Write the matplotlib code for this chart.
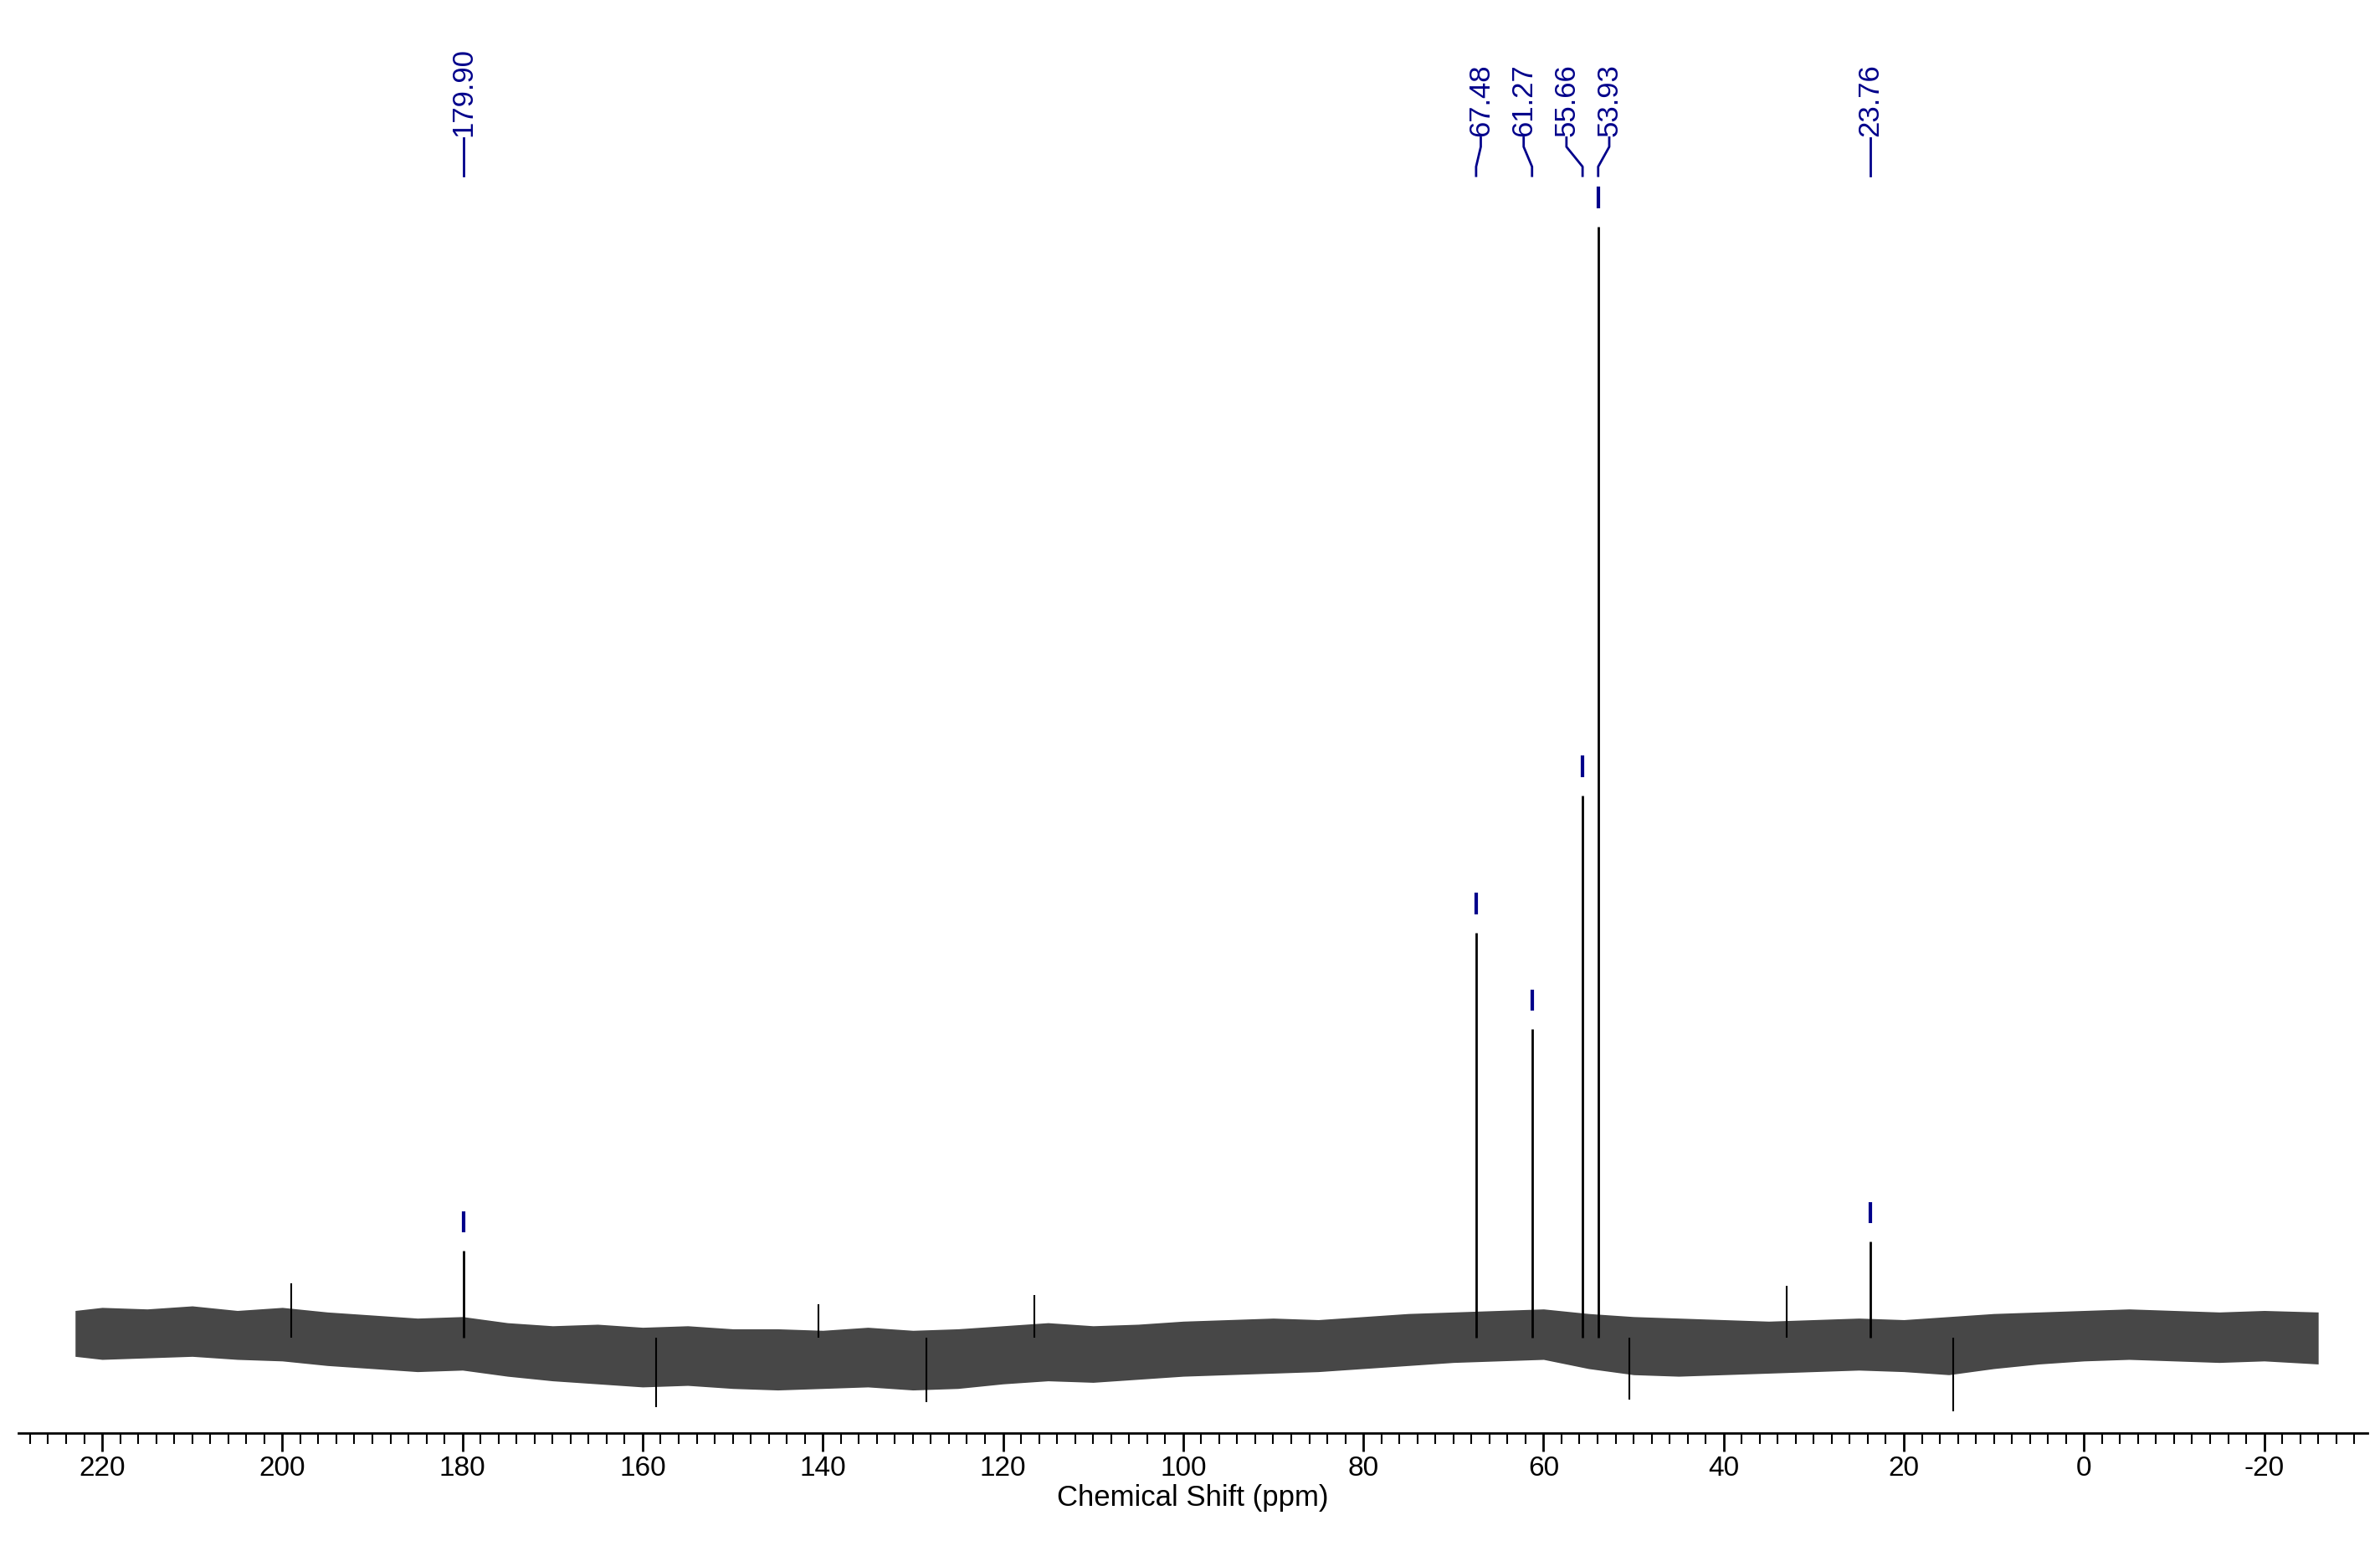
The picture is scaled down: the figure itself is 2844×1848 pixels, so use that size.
"""13C NMR spectrum with peak picks."""

import matplotlib.pyplot as plt
from matplotlib.ticker import FuncFormatter, MultipleLocator

plt.rcParams["font.family"] = ["Liberation Sans", "DejaVu Sans"]

# picked peaks (ppm) and heights above baseline (arbitrary units)
peak_ppm = [179.90, 67.48, 61.27, 55.66, 53.93, 23.76]
peak_height = [57, 265, 202, 355, 727, 63]
label_ppm = [179.90, 66.96, 62.20, 57.45, 52.70, 23.76]
peak_labels = ["179.90", "67.48", "61.27", "55.66", "53.93", "23.76"]

# baseline noise envelope (every 5 ppm)
env_ppm = [223, 220, 215, 210, 205, 200, 195, 190, 185, 180, 175, 170, 165, 160,
           155, 150, 145, 140, 135, 130, 125, 120, 115, 110, 105, 100, 95, 90, 85,
           80, 75, 70, 65, 60, 55, 50, 45, 40, 35, 30, 25, 20, 15, 10, 5, 0, -5,
           -10, -15, -20, -26]
env_upper = [18, 20, 19, 21, 18, 20, 17, 15, 13, 14, 10, 8, 9, 7, 8, 6, 6, 5, 7,
             5, 6, 8, 10, 8, 9, 11, 12, 13, 12, 14, 16, 17, 18, 19, 16, 14, 13, 12,
             11, 12, 13, 12, 14, 16, 17, 18, 19, 18, 17, 18, 17]
env_lower = [-12, -14, -13, -12, -14, -15, -18, -20, -22, -21, -25, -28, -30, -32,
             -31, -33, -34, -33, -32, -34, -33, -30, -28, -29, -27, -25, -24, -23,
             -22, -20, -18, -16, -15, -14, -20, -24, -25, -24, -23, -22, -21, -22,
             -24, -20, -17, -15, -14, -15, -16, -15, -17]
spike_ppm = [199.0, 116.5, 140.5, 33.0, 14.5, 158.5, 128.5, 50.5]
spike_val = [36, 28, 22, 34, -48, -45, -42, -40]

NAVY = "#00008b"

fig = plt.figure(figsize=(28.44, 18.48), dpi=100)
ax = fig.add_axes([12 / 1556, 1 - 937 / 1011, 1536 / 1556, 937 / 1011])

ax.fill_between(env_ppm, env_lower, env_upper, color="black", alpha=0.72, lw=0)
ax.vlines(spike_ppm, 0, spike_val, color="black", lw=1.5)
ax.vlines(peak_ppm, 0, peak_height, color="black", lw=2)
ax.vlines(peak_ppm, [h + 12 for h in peak_height], [h + 26 for h in peak_height],
          color=NAVY, lw=3)

for p, lp, txt in zip(peak_ppm, label_ppm, peak_labels):
    ax.plot([p, p, lp, lp], [760, 766, 779, 785], color=NAVY, lw=2)
    ax.text(lp, 786, txt, rotation=90, ha="center", va="bottom",
            color=NAVY, fontsize=25)

ax.set_xlim(229.3, -31.5)
ax.set_ylim(-62, 875)
for s in ["top", "left", "right"]:
    ax.spines[s].set_visible(False)
ax.spines["bottom"].set_linewidth(2)
ax.set_yticks([])
ax.xaxis.set_major_locator(MultipleLocator(20))
ax.xaxis.set_minor_locator(MultipleLocator(2))
ax.xaxis.set_major_formatter(FuncFormatter(lambda v, _: f"{v:.0f}"))
ax.tick_params(axis="x", which="major", length=16, width=2, labelsize=24)
ax.tick_params(axis="x", which="minor", length=9, width=1.5)
ax.set_xlabel("Chemical Shift (ppm)", fontsize=25, labelpad=2)

fig.savefig("out.png", dpi=100)
